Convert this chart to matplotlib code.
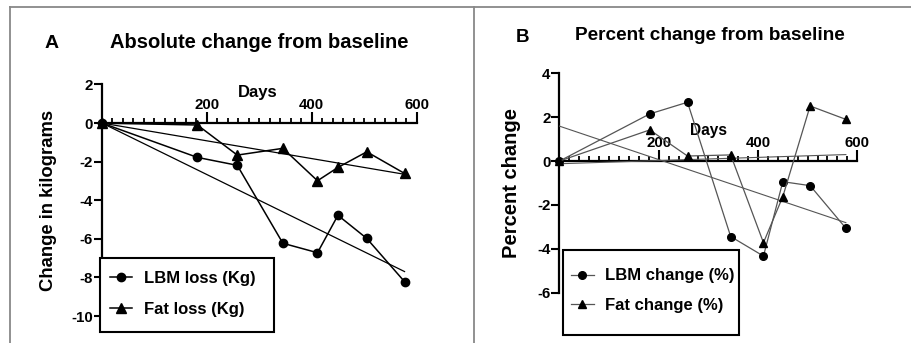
#Body composition change over time: absolute (kg) and percent change from baseline.

import numpy as np
import matplotlib
matplotlib.use('Agg')
import matplotlib.pyplot as plt
from matplotlib.lines import Line2D
from matplotlib.patches import Rectangle
from matplotlib.ticker import MultipleLocator, FixedLocator

plt.rcParams['font.family'] = ['Liberation Sans', 'DejaVu Sans']
plt.rcParams['font.weight'] = 'bold'
plt.rcParams['axes.unicode_minus'] = False

# Data
days = [0, 182, 258, 345, 411, 450, 505, 577]
lbm_loss_kg = [0, -1.78, -2.19, -6.23, -6.72, -4.78, -5.98, -8.22]
fat_loss_kg = [0, -0.10, -1.66, -1.31, -2.99, -2.30, -1.49, -2.61]
lbm_change_pct = [0, 2.15, 2.68, -3.44, -4.33, -0.94, -1.12, -3.06]
fat_change_pct = [0, 1.42, 0.23, 0.28, -3.72, -1.62, 2.51, 1.90]

x_ticks = [200, 400, 600]


def fit_through_origin(x, y):
    x = np.asarray(x, float)
    y = np.asarray(y, float)
    slope = np.sum(x * y) / np.sum(x * x)
    return 0.0, slope


def fit_ols(x, y):
    slope, intercept = np.polyfit(x, y, 1)
    return intercept, slope


# style the axes like the original: x axis crossing at y=0, ticks pointing up
def style_axes(ax, ylim, yticks):
    ax.set_xlim(0, 600)
    ax.set_ylim(*ylim)
    ax.spines['right'].set_visible(False)
    ax.spines['bottom'].set_visible(False)
    ax.spines['top'].set_position(('data', 0))
    ax.spines['top'].set_linewidth(1.6)
    ax.spines['left'].set_linewidth(1.6)
    ax.xaxis.set_ticks_position('top')
    ax.xaxis.set_major_locator(FixedLocator(x_ticks))
    ax.xaxis.set_minor_locator(MultipleLocator(20))
    ax.tick_params(axis='x', which='major', direction='out', length=8, width=1.5,
                   labelsize=10.8, pad=0)
    ax.tick_params(axis='x', which='minor', direction='out', length=3.5, width=1.3)
    ax.set_yticks(yticks)
    ax.tick_params(axis='y', which='major', direction='out', length=5.5, width=1.5,
                   labelsize=10.8, pad=1)
    for lab in ax.get_xticklabels() + ax.get_yticklabels():
        lab.set_fontweight('bold')
    ax.patch.set_visible(False)


# legend without its own frame, boxed by a rectangle in axes coords
def boxed_legend(ax, anchor, box, spacing):
    leg = ax.legend(loc='center left', bbox_to_anchor=anchor, borderaxespad=0,
                    borderpad=0, frameon=False, handlelength=1.35, handletextpad=0.7,
                    labelspacing=spacing, prop={'size': 12, 'weight': 'bold'})
    leg.set_zorder(7)
    x0, y0, x1, y1 = box
    ax.add_patch(Rectangle((x0, y0), x1 - x0, y1 - y0, transform=ax.transAxes,
                           facecolor='white', edgecolor='black', lw=1.5,
                           clip_on=False, zorder=6))
    return leg


fig = plt.figure(figsize=(9.12, 3.43), dpi=100)

# Panel A
axA = fig.add_axes([0.1118, 0.0787, 0.345, 0.675])
style_axes(axA, (-10, 2), range(-10, 3, 2))
axA.plot(days, lbm_loss_kg, color='black', lw=1.1, marker='o', ms=6,
         clip_on=False, label='LBM loss (Kg)', zorder=4)
axA.plot(days, fat_loss_kg, color='black', lw=1.1, marker='^', ms=6.8,
         clip_on=False, label='Fat loss (Kg)', zorder=4)
xx = np.array([0, days[-1]])
for series in (lbm_loss_kg, fat_loss_kg):
    b0, b1 = fit_through_origin(days, series)
    axA.plot(xx, b0 + b1 * xx, color='black', lw=0.9, zorder=3)
axA.text(0.496, 0.967, 'Days', transform=axA.transAxes, ha='center', va='center',
         fontsize=12, fontweight='bold')
axA.set_ylabel('Change in kilograms', fontsize=13.3, fontweight='bold')
axA.yaxis.set_label_coords(-0.143, 0.5)
boxed_legend(axA, (0.025, 0.095), (-0.006, -0.069, 0.547, 0.25), 0.95)

# Panel B
axB = fig.add_axes([0.6134, 0.1466, 0.3266, 0.6397])
style_axes(axB, (-6, 4), range(-6, 5, 2))
axB.plot(days, lbm_change_pct, color='#555555', lw=0.9, marker='o', ms=5.5,
         mfc='black', mec='black', clip_on=False, label='LBM change (%)', zorder=4)
axB.plot(days, fat_change_pct, color='#555555', lw=0.9, marker='^', ms=6.3,
         mfc='black', mec='black', clip_on=False, label='Fat change (%)', zorder=4)
for series in (lbm_change_pct, fat_change_pct):
    b0, b1 = fit_ols(days, series)
    axB.plot(xx, b0 + b1 * xx, color='#555555', lw=0.8, zorder=3)
axB.text(0.502, 0.74, 'Days', transform=axB.transAxes, ha='center', va='center',
         fontsize=11.2, fontweight='bold')
axB.set_ylabel('Percent change', fontsize=14.5, fontweight='bold')
axB.yaxis.set_label_coords(-0.128, 0.5)
boxed_legend(axB, (0.039, 0.010), (0.012, -0.193, 0.603, 0.195), 0.85)

# panel titles
fig.text(52 / 912, 1 - 44 / 343, 'A', ha='center', va='center', fontsize=14, fontweight='bold')
fig.text(259.5 / 912, 1 - 42 / 343, 'Absolute change from baseline', ha='center',
         va='center', fontsize=14.5, fontweight='bold')
fig.text(523 / 912, 1 - 37 / 343, 'B', ha='center', va='center', fontsize=13.5, fontweight='bold')
fig.text(710 / 912, 1 - 36 / 343, 'Percent change from baseline', ha='center',
         va='center', fontsize=13.7, fontweight='bold')

# grey frame lines around / between the panels
frame_kw = dict(color='#888888', lw=1.3, transform=fig.transFigure)
fig.add_artist(Line2D([10 / 912, 1], [1 - 7 / 343, 1 - 7 / 343], **frame_kw))
fig.add_artist(Line2D([10 / 912, 10 / 912], [0, 1 - 7 / 343], **frame_kw))
fig.add_artist(Line2D([474.5 / 912, 474.5 / 912], [0, 1 - 7 / 343], **frame_kw))

fig.savefig('out.png', dpi=100)
